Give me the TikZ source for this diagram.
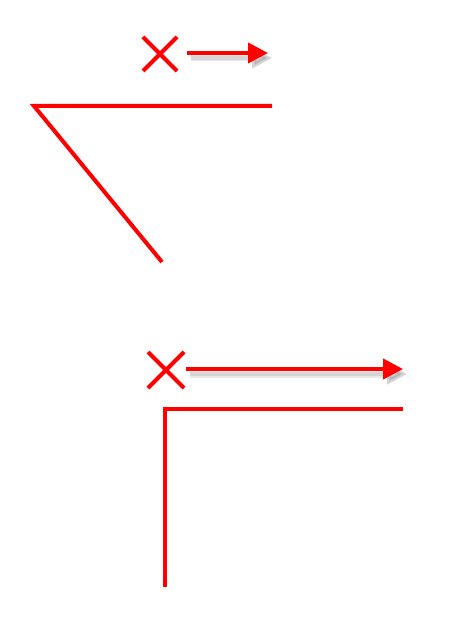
\documentclass[tikz,border=0pt]{standalone}
\usetikzlibrary{arrows.meta,shapes.misc}

\tikzset{redline/.style={draw=red,line width=4pt},
         mark cross/.style={cross out,draw=red,line width=4pt,inner sep=0pt,minimum size=#1},
         push/.style={redline,-{Triangle[length=20pt,width=20pt]}},
         push shadow/.style={draw=black!60,line width=#1,opacity=0.15,
                             -{Triangle[length=20pt,width=20pt]},transform canvas={shift={(4pt,-5pt)}}}}

\begin{document}
\begin{tikzpicture}[x=1pt,y=-1pt]
\useasboundingbox (0,0) rectangle (460,636);

% top: arrow and angle
\node[mark cross=30pt] (X1) at (160,54) {};
\coordinate (T1) at (268,53);
\draw[push shadow=7pt,shorten <=10pt] (X1.east |- T1) -- (T1);
\draw[push shadow=4pt,shorten <=10pt] (X1.east |- T1) -- (T1);
\draw[push,shorten <=10pt] (X1.east |- T1) -- (T1);

\coordinate (A1) at (34,106);
\coordinate (A2) at (272,106);
\coordinate (A3) at (162,262);
\draw[redline] (A2) -- (A1) -- (A3);

% bottom: arrow and right angle
\node[mark cross=32pt] (X2) at (166,370) {};
\coordinate (T2) at (403,369);
\draw[push shadow=7pt,shorten <=2pt] (X2.east |- T2) -- (T2);
\draw[push shadow=4pt,shorten <=2pt] (X2.east |- T2) -- (T2);
\draw[push,shorten <=2pt] (X2.east |- T2) -- (T2);

\coordinate (B1) at (165,409);
\coordinate (B2) at (403,409);
\coordinate (B3) at (165,587);
\draw[redline] (B2) -- (B1) -- (B3);
\end{tikzpicture}
\end{document}
